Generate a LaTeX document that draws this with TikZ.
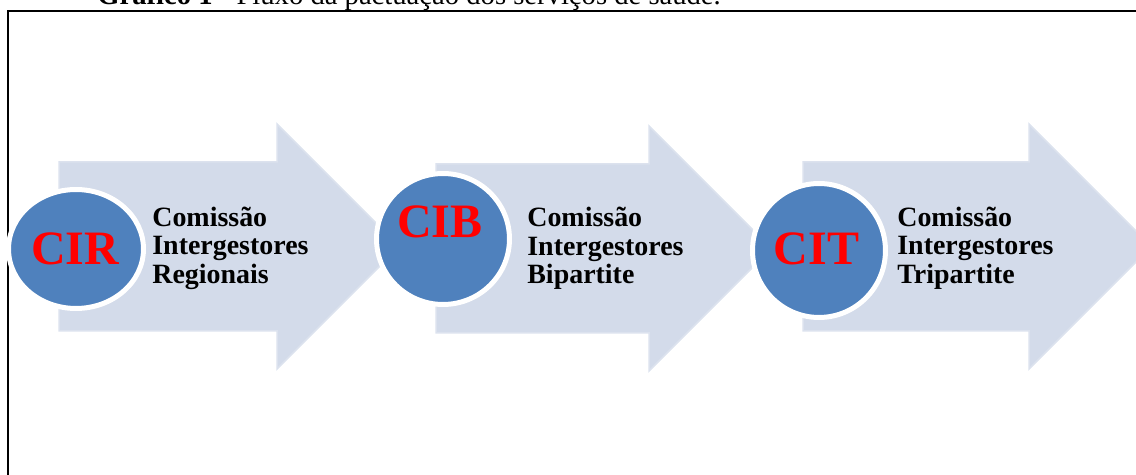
\documentclass[tikz,border=0pt]{standalone}
\usepackage{fontspec}
\setmainfont{Liberation Serif}
\usepackage{xcolor}
\usetikzlibrary{shapes.geometric}

\definecolor{setafundo}{RGB}{211,219,234}
\definecolor{setaborda}{RGB}{220,226,238}
\definecolor{circazul}{RGB}{79,129,189}

\begin{document}
\begin{tikzpicture}[x=0.02cm, y=-0.02cm,
  seta/.style={fill=setafundo, draw=setaborda, line width=0.03cm},
  circulo/.style={ellipse, fill=circazul, draw=white, line width=0.1cm, inner sep=0pt},
  sigla/.style={text=red, inner sep=0pt, font=\bfseries\fontsize{27.3}{27.3}\selectfont},
  descr/.style={align=left, anchor=base west, inner sep=0pt, font=\bfseries\fontsize{15.9}{16.3}\selectfont}]
\useasboundingbox (0,0) rectangle (1136,475);

\node[anchor=base west, inner sep=0pt, font=\fontsize{16.3}{18}\selectfont] (titulo) at (97,4.5)
  {\textbf{Gráfico 1} - Fluxo da pactuação dos serviços de saúde.};
\draw[line width=0.04cm] (8,480) -- (8,11) -- (1140,11);

% setas
\foreach \L/\T/\B/\H/\HT/\HB in {59/162/331/277/124/369, 436/164/333/649/126/371, 803/162/331/1029/124/369}
  \draw[seta] (\L,\T) -- (\H,\T) -- (\H,\HT) -- ({\H+(\HB-\HT)/2},{(\HT+\HB)/2})
    -- (\H,\HB) -- (\H,\B) -- (\L,\B) -- cycle;

% circulos
\node[circulo, minimum width=2.7cm, minimum height=2.38cm] (cir) at (76,249) {};
\node[circulo, minimum width=2.66cm, minimum height=2.62cm] (cib) at (443,239) {};
\node[circulo, minimum width=2.66cm, minimum height=2.68cm] (cit) at (819,250.5) {};

\node[sigla] (cirtxt) at (75,248.5) {CIR};
\node[sigla] (cibtxt) at (440,221.5) {CIB};
\node[sigla] (cittxt) at (816.5,249) {CIT};

% base = ultima linha
\node[descr] (regionais) at (152,283.3) {Comissão\\Intergestores\\Regionais};
\node[descr] (bipartite) at (527,284) {Comissão\\Intergestores\\Bipartite};
\node[descr] (tripartite) at (897,283.3) {Comissão\\Intergestores\\Tripartite};
\end{tikzpicture}
\end{document}
